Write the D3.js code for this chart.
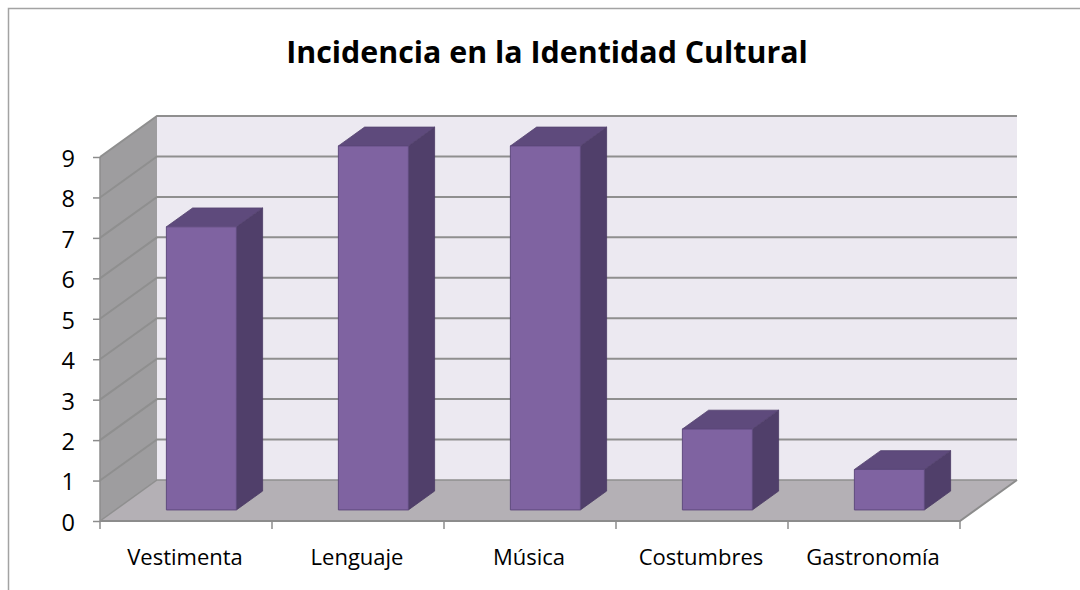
<!DOCTYPE html>
<html>
<head>
<meta charset="utf-8">
<script src="https://cdn.jsdelivr.net/npm/d3@7/dist/d3.min.js"></script>
<style>
  html, body { margin: 0; padding: 0; background: #ffffff; }
  svg { display: block; }
  text { font-family: "Open Sans", Lato, sans-serif; fill: #000; }
</style>
</head>
<body>
<svg id="chart" width="1080" height="590"></svg>
<script>
// Chart data
const title = "Incidencia en la Identidad Cultural";
const categories = ["Vestimenta", "Lenguaje", "Música", "Costumbres", "Gastronomía"];
const values = [7, 9, 9, 2, 1];
const yTicks = [0, 1, 2, 3, 4, 5, 6, 7, 8, 9];

const svg = d3.select("#chart");

// Plot geometry (front plane of the 3D box, plus depth offset to the back wall)
const plotLeft = 100, plotRight = 960, plotBottom = 521, plotTop = 157;
const depthX = 57, depthY = 41;           // offset of back wall from front plane
const barZ0 = 0.27, barZ1 = 0.73;         // bar depth span inside the box (0..1)
const barWidth = 70;

const x = d3.scaleBand().domain(categories).range([plotLeft, plotRight]).padding(0);
const y = d3.scaleLinear().domain([0, 9]).range([plotBottom, plotTop]);

// project a point (screen x on front plane, value, depth z in 0..1)
const P = (px, v, z) => [px + depthX * z, y(v) - depthY * z];
const poly = pts => "M" + pts.map(p => p.join(",")).join("L") + "Z";

// size a font so that a sample string spans the wanted width
function fitSize(str, weight, width) {
  const t = svg.append("text").style("font-weight", weight).style("font-size", "20px").text(str);
  const w = t.node().getComputedTextLength();
  t.remove();
  return 20 * width / w;
}
const titleSize = fitSize(title, "bold", 522);
const labelSize = Math.min(22, fitSize("Vestimenta", "normal", 121));

// outer frame
svg.append("rect")
  .attr("x", 8.5).attr("y", 8.5)
  .attr("width", 1100).attr("height", 620)
  .attr("fill", "#fff").attr("stroke", "#a3a3a3").attr("stroke-width", 1.5);

// title
svg.append("text")
  .attr("x", 547).attr("y", 63)
  .attr("text-anchor", "middle")
  .style("font-weight", "bold")
  .style("font-size", titleSize + "px")
  .text(title);

const vMax = 9;
const g = svg.append("g");

// back wall
g.append("path")
  .attr("d", poly([P(plotLeft, 0, 1), P(plotRight, 0, 1), P(plotRight, vMax, 1), P(plotLeft, vMax, 1)]))
  .attr("fill", "#ece9f1");

// side wall
g.append("path")
  .attr("d", poly([P(plotLeft, 0, 0), P(plotLeft, 0, 1), P(plotLeft, vMax, 1), P(plotLeft, vMax, 0)]))
  .attr("fill", "#9e9d9f");

// floor
g.append("path")
  .attr("d", poly([P(plotLeft, 0, 0), P(plotRight, 0, 0), P(plotRight, 0, 1), P(plotLeft, 0, 1)]))
  .attr("fill", "#b4b0b5");

// gridlines on side wall and back wall
const grid = g.append("g");
yTicks.filter(v => v > 0).forEach(v => {
  const a = P(plotLeft, v, 0), b = P(plotLeft, v, 1), c = P(plotRight, v, 1);
  grid.append("path")
    .attr("d", `M${a}L${b}L${c}`)
    .attr("fill", "none")
    .attr("stroke", "#8f8f8f")
    .attr("stroke-width", 2);
});

// floor edges
g.append("path")
  .attr("d", `M${P(plotLeft, 0, 0)}L${P(plotRight, 0, 0)}L${P(plotRight, 0, 1)}`)
  .attr("fill", "none").attr("stroke", "#8c8c8c").attr("stroke-width", 2);
g.append("path")
  .attr("d", `M${P(plotLeft, 0, 0)}L${P(plotLeft, 0, 1)}L${P(plotRight, 0, 1)}`)
  .attr("fill", "none").attr("stroke", "#8f8f8f").attr("stroke-width", 1.5);

// vertical axis line and ticks
g.append("line")
  .attr("x1", plotLeft).attr("x2", plotLeft).attr("y1", y(0)).attr("y2", y(vMax))
  .attr("stroke", "#8c8c8c").attr("stroke-width", 1.5);

const yAxis = svg.append("g")
  .attr("transform", `translate(${plotLeft},0)`)
  .call(d3.axisLeft(y).tickValues(yTicks).tickSize(7).tickPadding(18).tickFormat(d3.format("d")));
yAxis.select(".domain").remove();
yAxis.selectAll(".tick line").attr("stroke", "#8c8c8c").attr("stroke-width", 1.5);
yAxis.selectAll(".tick text")
  .style("font-size", (labelSize + 1.5) + "px")
  .style("font-family", "'Open Sans', sans-serif")
  .attr("dy", "0.4em");

// category axis: ticks at band boundaries, labels at band centres
const xBounds = categories.map(c => x(c)).concat([plotRight]);
svg.append("g").selectAll("line").data(xBounds).join("line")
  .attr("x1", d => d).attr("x2", d => d)
  .attr("y1", plotBottom).attr("y2", plotBottom + 8)
  .attr("stroke", "#8c8c8c").attr("stroke-width", 1.5);

svg.append("g").selectAll("text").data(categories).join("text")
  .attr("x", d => x(d) + x.bandwidth() / 2 - 1)
  .attr("y", 565)
  .attr("text-anchor", "middle")
  .style("font-size", labelSize + "px")
  .text(d => d);

// bars: front, top and right faces
const bars = svg.append("g").selectAll("g").data(categories.map((c, i) => ({ c, v: values[i] }))).join("g");
const bx0 = d => x(d.c) + (x.bandwidth() - barWidth) / 2;
const bx1 = d => bx0(d) + barWidth;

bars.append("path") // right side
  .attr("d", d => poly([P(bx1(d), 0, barZ0), P(bx1(d), 0, barZ1), P(bx1(d), d.v, barZ1), P(bx1(d), d.v, barZ0)]))
  .attr("fill", "#503f6a").attr("stroke", "#4a3a63").attr("stroke-width", 0.8);
bars.append("path") // top
  .attr("d", d => poly([P(bx0(d), d.v, barZ0), P(bx1(d), d.v, barZ0), P(bx1(d), d.v, barZ1), P(bx0(d), d.v, barZ1)]))
  .attr("fill", "#5e4a7c").attr("stroke", "#54426f").attr("stroke-width", 0.8);
bars.append("path") // front
  .attr("d", d => poly([P(bx0(d), 0, barZ0), P(bx1(d), 0, barZ0), P(bx1(d), d.v, barZ0), P(bx0(d), d.v, barZ0)]))
  .attr("fill", "#7f63a1").attr("stroke", "#5f4a7e").attr("stroke-width", 1);
</script>
</body>
</html>
